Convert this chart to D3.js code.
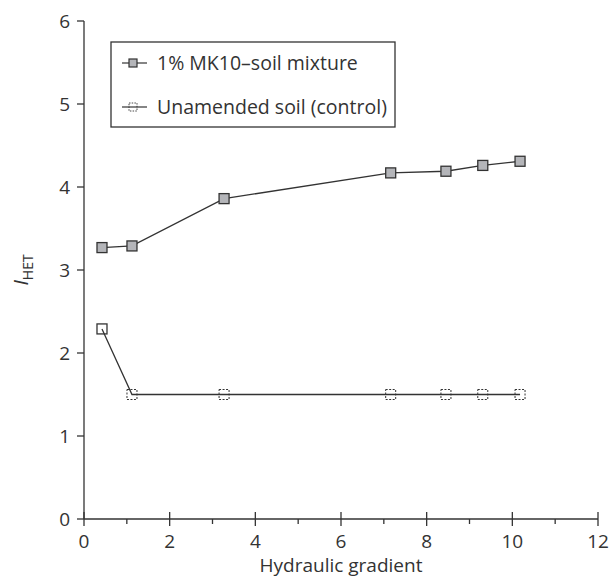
<!DOCTYPE html>
<html>
<head>
<meta charset="utf-8">
<script src="https://cdn.jsdelivr.net/npm/d3@7"></script>
<style>
  body { margin: 0; background: #fff; }
  text { font-family: "Open Sans", "Noto Sans", sans-serif; fill: #333; }
</style>
</head>
<body>
<script>
const gradient = [0.42, 1.12, 3.27, 7.16, 8.45, 9.31, 10.18];
const mk10 = [3.27, 3.29, 3.86, 4.17, 4.19, 4.26, 4.31];
const control = [2.29, 1.50, 1.50, 1.50, 1.50, 1.50, 1.50];
const seriesNames = ["1% MK10\u2013soil mixture", "Unamended soil (control)"];
const xTicks = [0, 2, 4, 6, 8, 10, 12];
const xMinor = [1, 3, 5, 7, 9, 11];
const yTicks = [0, 1, 2, 3, 4, 5, 6];

const margin = { top: 21, right: 13, bottom: 66, left: 84 },
      width = 611 - margin.left - margin.right,
      height = 585 - margin.top - margin.bottom;

const svg = d3.select("body")
  .append("svg")
    .attr("width", 611)
    .attr("height", 585)
  .append("g")
    .attr("transform", `translate(${margin.left},${margin.top})`);

const x = d3.scaleLinear().domain([0, 12]).range([0, width]);
const y = d3.scaleLinear().domain([0, 6]).range([height, 0]);
const ink = "#333";
const fs = 19;

// x axis: major ticks cross the line, minor ticks below it
const gx = svg.append("g").attr("transform", `translate(0,${height})`);
gx.append("line").attr("x1", x(0)).attr("x2", x(12)).attr("stroke", ink).attr("stroke-width", 1.3);
gx.selectAll(".maj").data(xTicks).join("line")
  .attr("x1", d => x(d)).attr("x2", d => x(d))
  .attr("y1", -7).attr("y2", 7).attr("stroke", ink).attr("stroke-width", 1.3);
gx.selectAll(".min").data(xMinor).join("line")
  .attr("x1", d => x(d)).attr("x2", d => x(d))
  .attr("y1", 0).attr("y2", 5).attr("stroke", ink).attr("stroke-width", 1.3);
gx.selectAll(".lab").data(xTicks).join("text")
  .attr("x", d => x(d)).attr("y", 29)
  .attr("text-anchor", "middle").attr("font-size", fs)
  .text(d => d);

// y axis
const gy = svg.append("g");
gy.append("line").attr("y1", y(0)).attr("y2", y(6)).attr("stroke", ink).attr("stroke-width", 1.3);
gy.selectAll(".maj").data(yTicks).join("line")
  .attr("y1", d => y(d)).attr("y2", d => y(d))
  .attr("x1", -7).attr("x2", 0).attr("stroke", ink).attr("stroke-width", 1.3);
gy.selectAll(".lab").data(yTicks).join("text")
  .attr("x", -14).attr("y", d => y(d) + 7)
  .attr("text-anchor", "end").attr("font-size", fs)
  .text(d => d);

// axis titles
svg.append("text")
  .attr("x", width / 2).attr("y", height + 53)
  .attr("text-anchor", "middle").attr("font-size", fs)
  .text("Hydraulic gradient");
const yt = svg.append("text")
  .attr("transform", `translate(${-56},${height / 2}) rotate(-90)`)
  .attr("text-anchor", "middle").attr("font-size", 20);
yt.append("tspan").attr("font-style", "italic").text("I");
yt.append("tspan").attr("font-size", 14).attr("dy", 5).text("HET");

// lines
const line = d3.line().x(d => x(d[0])).y(d => y(d[1]));
const s1 = gradient.map((g, i) => [g, mk10[i]]);
const s2 = gradient.map((g, i) => [g, control[i]]);
svg.append("path").datum(s1).attr("d", line)
  .attr("fill", "none").attr("stroke", ink).attr("stroke-width", 1.3);
svg.append("path").datum(s2).attr("d", line)
  .attr("fill", "none").attr("stroke", ink).attr("stroke-width", 1.3);

// markers
const ms = 10;
svg.selectAll(".m1").data(s1).join("rect")
  .attr("x", d => x(d[0]) - ms / 2).attr("y", d => y(d[1]) - ms / 2)
  .attr("width", ms).attr("height", ms)
  .attr("fill", "#b4b5b9").attr("stroke", ink).attr("stroke-width", 1.3);
svg.selectAll(".m2").data(s2).join("rect")
  .attr("x", d => x(d[0]) - ms / 2).attr("y", d => y(d[1]) - ms / 2)
  .attr("width", ms).attr("height", ms)
  .attr("fill", "none").attr("stroke", ink)
  .attr("stroke-width", (d, i) => i === 0 ? 1.3 : 1)
  .attr("stroke-dasharray", (d, i) => i === 0 ? null : "2,1.5");

// legend
const lg = svg.append("g").attr("transform", `translate(${111 - margin.left},${42 - margin.top})`);
lg.append("rect").attr("width", 284).attr("height", 85)
  .attr("fill", "#fff").attr("stroke", ink).attr("stroke-width", 1.3);
seriesNames.forEach((name, i) => {
  const cy = 21 + i * 44;
  lg.append("line").attr("x1", 11).attr("x2", 36).attr("y1", cy).attr("y2", cy)
    .attr("stroke", ink).attr("stroke-width", 1.2);
  lg.append("rect").attr("x", 18).attr("y", cy - 4).attr("width", 8).attr("height", 8)
    .attr("fill", i === 0 ? "#b4b5b9" : "none").attr("stroke", ink)
    .attr("stroke-width", i === 0 ? 1.2 : 0.9)
    .attr("stroke-dasharray", i === 0 ? null : "1.5,1.2");
  lg.append("text").attr("x", 46).attr("y", cy + 7).attr("font-size", 19.5).text(name);
});
</script>
</body>
</html>
